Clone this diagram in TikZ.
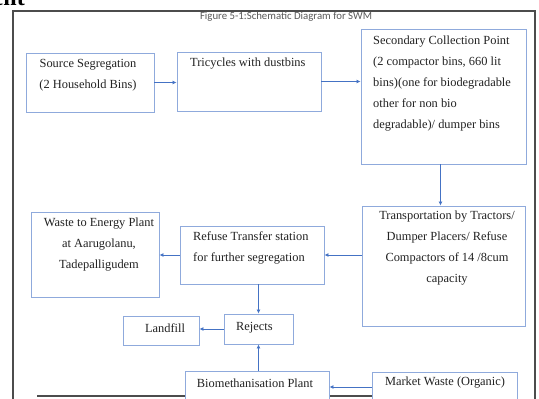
\documentclass[tikz,border=0pt]{standalone}
\usepackage{fontspec}
\usetikzlibrary{arrows.meta}
\setmainfont{Liberation Serif}
\newfontfamily\captionfont{Carlito}
\definecolor{boxblue}{HTML}{8FAADC}
\definecolor{arrblue}{HTML}{4472C4}
\definecolor{txtgray}{HTML}{222222}
\begin{document}
\begin{tikzpicture}[x=1pt, y=-1pt,
    box/.style={rectangle, draw=boxblue, line width=0.9pt, fill=white, inner sep=0pt},
    txt/.style={inner sep=0pt, text=txtgray, font=\fontsize{12.4pt}{21pt}\selectfont},
    arr/.style={-{Latex[length=4pt,width=4pt]}, line width=0.9pt, color=arrblue}
]
\useasboundingbox (0,0) rectangle (539,399);
% Rahmen
\node[anchor=base east, inner sep=0pt, font=\bfseries\fontsize{24pt}{24pt}\selectfont] (head) at (25,5) {ment};
\draw[line width=1.5pt, color=black!70] (13,11) rectangle (535,430);
\node[inner sep=0pt, text=black!65, font=\captionfont\fontsize{10.8pt}{10.8pt}\selectfont] (cap) at (286,17) {Figure 5-1:Schematic Diagram for SWM};
\draw[line width=2pt, color=black!70] (37,396) -- (372,396);

% Boxes
\node[box, minimum width=128pt, minimum height=59pt] (src) at (90,82.5) {};
\node[box, minimum width=144pt, minimum height=59pt] (tri) at (249,81.5) {};
\node[box, minimum width=165pt, minimum height=135pt] (sec) at (443.5,96.5) {};
\node[box, minimum width=163pt, minimum height=120pt] (trans) at (443.5,266) {};
\node[box, minimum width=144pt, minimum height=58pt] (rts) at (252,255) {};
\node[box, minimum width=128pt, minimum height=85pt] (wte) at (95,254.5) {};
\node[box, minimum width=69pt, minimum height=30pt] (rej) at (258.5,329) {};
\node[box, minimum width=76pt, minimum height=29pt] (land) at (161,330.5) {};
\node[box, minimum width=144pt, minimum height=39pt] (bio) at (257,390.5) {};
\node[box, minimum width=145pt, minimum height=38pt] (mkt) at (444.5,391) {};

% Texte
\node[txt, align=center] (srct) at (88,75.5) {Source Segregation\\(2 Household Bins)};
\node[txt, anchor=west] (trit) at (190,64) {Tricycles with dustbins};
\node[txt, anchor=west, align=left] (sect) at (373,83.5) {Secondary Collection Point\\(2 compactor bins, 660 lit\\bins)(one for biodegradable\\other for non bio\\degradable)/ dumper bins};
\node[txt, align=center] (transt) at (447,248.5) {Transportation by Tractors/\\Dumper Placers/ Refuse\\Compactors of 14 /8cum\\capacity};
\node[txt, anchor=west, align=left] (rtst) at (193,247.5) {Refuse Transfer station\\for further segregation};
\node[txt, align=center] (wtet) at (99,244.5) {Waste to Energy Plant\\at Aarugolanu,\\Tadepalligudem};
\node[txt, anchor=west] (rejt) at (236,328) {Rejects};
\node[txt] (landt) at (165,328) {Landfill};
\node[txt] (biot) at (255,383) {Biomethanisation Plant};
\node[txt] (mktt) at (445,383) {Market Waste (Organic)};

% Pfeile
\draw[arr] (src.east) -- (src.east -| tri.west);
\draw[arr] (tri.east) -- (tri.east -| sec.west);
\draw[arr] ([xshift=-3pt]sec.south) -- ([xshift=-3pt]sec.south |- trans.north);
\draw[arr] (trans.west |- rts.east) -- (rts.east);
\draw[arr] (rts.west) -- (rts.west -| wte.east);
\draw[arr] (rts.south -| rej.north) -- (rej.north);
\draw[arr] (rej.west) -- (rej.west -| land.east);
\draw[arr] (bio.north -| rej.south) -- (rej.south);
\draw[arr] ([yshift=4pt]mkt.west) -- ([yshift=4pt]mkt.west -| bio.east);
\end{tikzpicture}
\end{document}
